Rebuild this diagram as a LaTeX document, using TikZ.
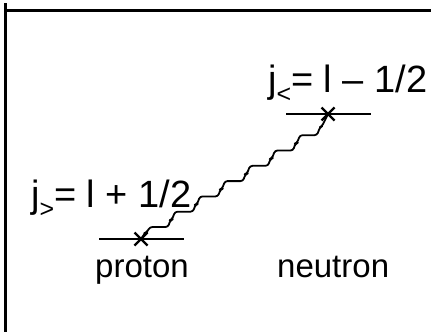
\documentclass[tikz,border=0pt]{standalone}
\usepackage{fontspec}
\setmainfont{Liberation Sans}
\newcommand{\subsym}[1]{\raisebox{-10pt}{\fontsize{25}{25}\selectfont #1}}
\begin{document}
\begin{tikzpicture}[x=1pt,y=-1pt,
  lbl/.style={anchor=base west,inner sep=0pt,font=\fontsize{38}{42}\selectfont},
  word/.style={anchor=base west,inner sep=0pt,font=\fontsize{33}{38}\selectfont},
  level/.style={line width=2pt},
  cross/.style={line width=2.4pt},
  frame/.style={line width=3pt},
  wave/.style={line width=1.8pt,rounded corners=2.5pt,line join=round}]
\useasboundingbox (0,0) rectangle (431,332);
% frame
\coordinate (f0) at (5,3);
\coordinate (f1) at (5,332);
\coordinate (f2) at (5,10);
\coordinate (f3) at (431,10);
\draw[frame] (f0) -- (f1);
\draw[frame] (f2) -- (f3);
% levels
\coordinate (p) at (141,239);
\coordinate (n) at (328,114);
\coordinate (pl) at (99,239);
\coordinate (pr) at (184,239);
\coordinate (nl) at (286,114);
\coordinate (nr) at (371,114);
\draw[level] (pl) -- (pr);
\draw[level] (nl) -- (nr);
\draw[cross] ([shift={(-6.5,-6.5)}]p) -- ([shift={(6.5,6.5)}]p) ([shift={(-6.5,6.5)}]p) -- ([shift={(6.5,-6.5)}]p);
\draw[cross] ([shift={(-6.5,-6.5)}]n) -- ([shift={(6.5,6.5)}]n) ([shift={(-6.5,6.5)}]n) -- ([shift={(6.5,-6.5)}]n);
% staircase wavy connector
\draw[wave] (p) -- ++(4,-6) -- ++(1.5,-0.5) -- ++(3.5,-5.5)
  \foreach \i in {1,...,6} { -- ++(18,0) -- ++(2.5,-7) -- ++(1.5,-0.5) -- ++(3,-7.8) }
  -- ++(17,0) -- ++(3,-8) -- ++(2,-1) -- (n);
% labels
\node[lbl] (jl) at (268,92) {j\subsym{<}= l – 1/2};
\node[lbl] (jg) at (31,207) {j\subsym{>}= l + 1/2};
\node[word] (pt) at (95,277) {proton};
\node[word] (nt) at (277,277) {neutron};
\end{tikzpicture}
\end{document}
